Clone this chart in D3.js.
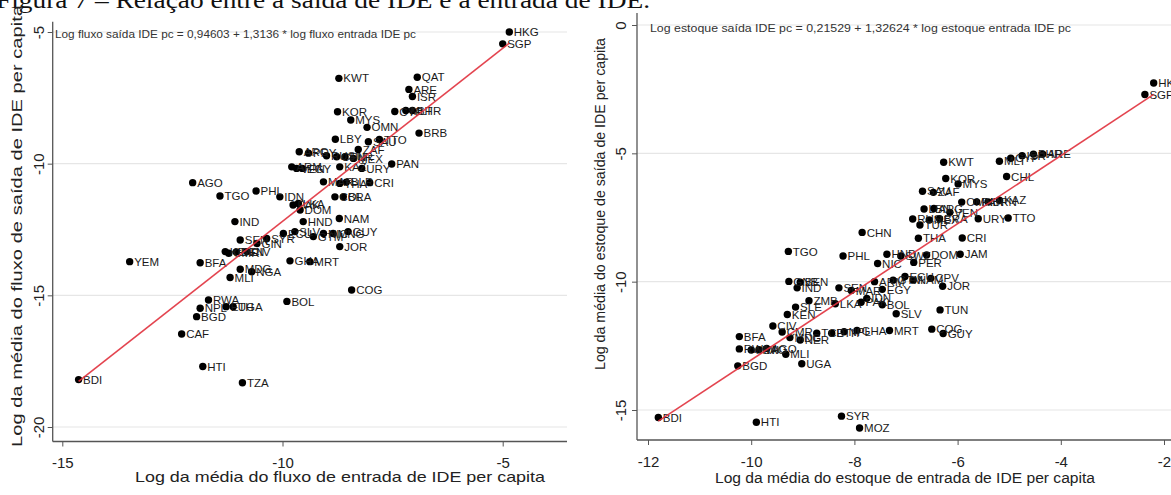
<!DOCTYPE html>
<html><head><meta charset="utf-8">
<script src="https://cdn.jsdelivr.net/npm/d3@7"></script>
<style>
html,body{margin:0;padding:0;background:#fff;overflow:hidden}
svg{display:block}
text{font-family:"Liberation Sans",Arial,sans-serif}
</style></head>
<body>
<svg id="chart" width="1171" height="495"></svg>
<script>
// ---------- data ----------
const figTitle = "Figura 7 – Relação entre a saída de IDE e a entrada de IDE.";

const leftLabels = ["HKG","SGP","KWT","QAT","ARE","ISR","KOR","CYP","MLT","BHR","MYS","OMN","BRB","LBY","SAU","TTO","ZAF","MEX","ARG","PRY","CHN","TUR","RUS","PAN","ARM","VEN","EGY","KAZ","URY","MAR","THA","BLR","CRI","AGO","TGO","PHL","IDN","LKA","COL","BRA","PAK","DOM","IND","HND","NAM","GUY","JOR","SEN","KEN","CMR","BEN","CIV","GIN","SYR","ECU","SLV","GTM","NIC","MNG","YEM","BFA","GHA","MRT","MDG","NGA","MLI","COG","RWA","NPL","UGA","ETH","BGD","BOL","CAF","HTI","TZA","BDI"];
const leftX = [-4.85,-5.00,-8.72,-6.94,-7.13,-7.05,-8.75,-7.45,-7.20,-7.05,-8.45,-8.08,-6.90,-8.80,-8.05,-7.80,-8.28,-8.39,-9.62,-9.41,-8.77,-8.58,-9.00,-7.52,-9.79,-9.68,-9.55,-8.70,-8.20,-9.07,-8.70,-8.55,-8.02,-12.04,-11.42,-10.60,-10.06,-9.64,-8.81,-8.62,-9.76,-9.60,-11.08,-9.53,-8.71,-8.51,-8.70,-10.96,-11.30,-11.22,-11.05,-10.81,-10.58,-10.36,-9.98,-9.72,-9.30,-9.07,-8.85,-13.47,-11.87,-9.83,-9.38,-10.96,-10.70,-11.19,-8.43,-11.68,-11.87,-11.12,-11.28,-11.95,-9.90,-12.29,-11.81,-10.91,-14.63];
const leftY = [-5.00,-5.45,-6.76,-6.72,-7.18,-7.45,-8.03,-8.02,-7.98,-7.98,-8.34,-8.62,-8.84,-9.07,-9.17,-9.08,-9.46,-9.80,-9.55,-9.60,-9.74,-9.74,-9.70,-10.01,-10.12,-10.18,-10.18,-10.12,-10.18,-10.69,-10.75,-10.70,-10.72,-10.72,-11.23,-11.04,-11.26,-11.51,-11.26,-11.26,-11.57,-11.76,-12.20,-12.20,-12.08,-12.58,-13.15,-12.90,-13.34,-13.40,-13.35,-13.34,-13.03,-12.84,-12.65,-12.58,-12.77,-12.65,-12.65,-13.72,-13.76,-13.69,-13.72,-14.01,-14.10,-14.32,-14.80,-15.18,-15.49,-15.43,-15.43,-15.81,-15.23,-16.47,-17.70,-18.32,-18.20];
const leftXTicks = [-15,-10,-5];
const leftYTicks = [-5,-10,-15,-20];
const leftFit = {a:0.94603, b:1.3136};
const leftEquation = "Log fluxo saída IDE pc = 0,94603 + 1,3136 * log fluxo entrada IDE pc";
const leftXTitle = "Log da média do fluxo de entrada de IDE per capita";
const leftYTitle = "Log da média do fluxo de saída de IDE per capita";

const rightLabels = ["HKG","SGP","KWT","MLT","CYP","ISR","BHR","ARE","CHL","KOR","MYS","SAU","ZAF","OMN","PAN","BRN","KAZ","LBN","ARG","RUS","TUR","MEX","BRA","VEN","URY","TTO","CHN","THA","CRI","JAM","DOM","TGO","PHL","HND","NIC","PER","SWZ","GNB","BEN","IND","SEN","MAR","ARM","EGY","GTM","ECU","NAM","CPV","JOR","ZMB","SLE","KEN","LKA","PAK","IDN","BOL","SLV","TUN","CIV","CMR","MDG","NER","TCD","ETH","NPL","GHA","MRT","COG","GUY","BFA","RWA","MWI","LAO","AGO","MLI","UGA","BGD","BDI","HTI","SYR","MOZ"];
const rightX = [-2.20,-2.37,-6.27,-5.19,-4.97,-4.75,-4.53,-4.35,-5.05,-6.23,-5.99,-6.68,-6.47,-5.92,-5.63,-5.41,-5.19,-6.65,-6.46,-6.87,-6.73,-6.55,-6.35,-6.15,-5.60,-5.02,-7.85,-6.76,-5.91,-5.95,-6.60,-9.28,-8.22,-7.37,-7.55,-6.85,-7.10,-9.27,-9.05,-9.11,-8.30,-8.06,-7.61,-7.46,-7.25,-7.02,-6.86,-6.52,-6.29,-8.88,-9.14,-9.30,-8.37,-7.87,-7.76,-7.46,-7.19,-6.34,-9.58,-9.40,-9.25,-9.05,-8.73,-8.44,-8.20,-7.95,-7.32,-6.50,-6.28,-10.23,-10.23,-10.00,-9.85,-9.70,-9.33,-9.02,-10.26,-11.80,-9.90,-8.25,-7.90];
const rightY = [-2.26,-2.71,-5.35,-5.31,-5.19,-5.09,-5.03,-5.03,-5.90,-5.98,-6.19,-6.48,-6.52,-6.90,-6.89,-6.89,-6.83,-7.17,-7.15,-7.56,-7.79,-7.60,-7.55,-7.30,-7.55,-7.52,-8.08,-8.31,-8.30,-8.93,-8.96,-8.82,-9.00,-8.93,-9.29,-9.25,-9.00,-9.99,-10.02,-10.24,-10.24,-10.34,-10.00,-10.30,-9.94,-9.80,-9.94,-9.87,-10.18,-10.74,-10.99,-11.28,-10.86,-10.80,-10.65,-10.90,-11.25,-11.10,-11.73,-11.96,-12.18,-12.27,-12.01,-12.01,-11.95,-11.90,-11.90,-11.85,-12.02,-12.14,-12.62,-12.66,-12.65,-12.60,-12.83,-13.20,-13.28,-15.29,-15.48,-15.24,-15.70];
const rightXTicks = [-12,-10,-8,-6,-4,-2];
const rightYTicks = [0,-5,-10,-15];
const rightFit = {a:0.21529, b:1.32624};
const rightEquation = "Log estoque saída IDE pc = 0,21529 + 1,32624 * log estoque entrada IDE pc";
const rightXTitle = "Log da média do estoque de entrada de IDE per capita";
const rightYTitle = "Log da média do estoque de saída de IDE per capita";

// ---------- drawing ----------
const svg = d3.select("#chart");

svg.append("text")
  .attr("x", -4).attr("y", 7.5)
  .attr("textLength", 654).attr("lengthAdjust", "spacingAndGlyphs")
  .style("font-family", "'Liberation Serif','Times New Roman',serif")
  .style("font-size", "24px").attr("fill", "#111")
  .text(figTitle);

function drawPanel(p) {
  const g = svg.append("g");
  const x = d3.scaleLinear().domain([p.xTicks[0], p.xTicks[p.xTicks.length-1]]).range(p.xRange);
  const y = d3.scaleLinear().domain([p.yTicks[0], p.yTicks[p.yTicks.length-1]]).range(p.yRange);

  // gridlines
  g.selectAll(".grid").data(p.yTicks).join("line")
    .attr("x1", p.left).attr("x2", p.right)
    .attr("y1", d => y(d)).attr("y2", d => y(d))
    .attr("stroke", "#e6e6e6").attr("stroke-width", 1.2);

  // x axis
  const xa = g.append("g").attr("transform", `translate(0,${p.bottom})`)
    .call(d3.axisBottom(x).tickValues(p.xTicks).tickSize(5).tickPadding(11).tickFormat(d => String(d)));
  xa.select(".domain").remove();
  xa.selectAll(".tick line").attr("stroke", "#555");
  xa.selectAll(".tick text").style("font-size", "15px").attr("fill", "#222");

  // y axis
  const ya = g.append("g").attr("transform", `translate(${p.left},0)`)
    .call(d3.axisLeft(y).tickValues(p.yTicks).tickSize(5).tickFormat(d => String(d)));
  ya.select(".domain").remove();
  ya.selectAll(".tick line").attr("stroke", "#555");
  ya.selectAll(".tick text")
    .attr("transform", "rotate(-90)")
    .attr("x", 0).attr("y", p.yLabelOff).attr("dy", 0)
    .attr("text-anchor", "middle")
    .style("font-size", "15px").attr("fill", "#222");

  // axis lines
  g.append("line").attr("x1", p.left).attr("x2", p.left).attr("y1", p.top).attr("y2", p.bottom)
    .attr("stroke", "#555").attr("stroke-width", 1.3);
  g.append("line").attr("x1", p.left).attr("x2", p.right).attr("y1", p.bottom).attr("y2", p.bottom)
    .attr("stroke", "#555").attr("stroke-width", 1.3);

  // equation
  g.append("text").attr("x", p.eq[0]).attr("y", p.eq[2])
    .attr("textLength", p.eq[1] - p.eq[0]).attr("lengthAdjust", "spacingAndGlyphs")
    .style("font-size", "11px").attr("fill", "#333").text(p.equation);

  // titles
  g.append("text").attr("x", p.xTitle[0]).attr("y", p.xTitle[2])
    .attr("text-anchor", "middle")
    .attr("textLength", p.xTitle[1]).attr("lengthAdjust", "spacingAndGlyphs")
    .style("font-size", p.titleSize + "px").attr("fill", "#222").text(p.xTitleText);
  g.append("text")
    .attr("transform", `translate(${p.yTitle[0]},${p.yTitle[2]}) rotate(-90)`)
    .attr("text-anchor", "middle")
    .attr("textLength", p.yTitle[1]).attr("lengthAdjust", "spacingAndGlyphs")
    .style("font-size", p.titleSize + "px").attr("fill", "#222").text(p.yTitleText);

  const pts = p.labels.map((l, i) => ({l, x: p.xs[i], y: p.ys[i]}));

  // points
  g.selectAll(".pt").data(pts).join("circle")
    .attr("cx", d => x(d.x)).attr("cy", d => y(d.y)).attr("r", 3.7).attr("fill", "#000");
  // labels
  g.selectAll(".lb").data(pts).join("text")
    .attr("x", d => x(d.x) + 4.5).attr("y", d => y(d.y)).attr("dy", "0.36em")
    .style("font-size", "11.5px").attr("fill", "#1a1a1a").text(d => d.l);

  // fit line
  const ext = d3.extent(p.xs);
  const fit = ext.map(v => [v, p.fit.a + p.fit.b * v]);
  g.append("path").datum(fit)
    .attr("d", d3.line().x(d => x(d[0])).y(d => y(d[1])))
    .attr("stroke", "#e0303c").attr("stroke-width", 1.6).attr("fill", "none").attr("opacity", 0.9);
}

drawPanel({
  labels: leftLabels, xs: leftX, ys: leftY, xTicks: leftXTicks, yTicks: leftYTicks, fit: leftFit,
  xRange: [62.3, 502.7], yRange: [32, 427],
  left: 52.7, right: 567, top: 21.7, bottom: 441.5, yLabelOff: -9,
  equation: leftEquation, eq: [55, 416, 37.5],
  xTitleText: leftXTitle, xTitle: [340, 410, 482],
  yTitleText: leftYTitle, yTitle: [22, 442, 226],
  titleSize: 15
});
drawPanel({
  labels: rightLabels, xs: rightX, ys: rightY, xTicks: rightXTicks, yTicks: rightYTicks, fit: rightFit,
  xRange: [648, 1164], yRange: [25, 410],
  left: 637, right: 1171, top: 13, bottom: 440, yLabelOff: -11,
  equation: rightEquation, eq: [650, 1071, 31.5],
  xTitleText: rightXTitle, xTitle: [905, 380, 483],
  yTitleText: rightYTitle, yTitle: [605, 332, 204],
  titleSize: 14
});
</script>
</body></html>
